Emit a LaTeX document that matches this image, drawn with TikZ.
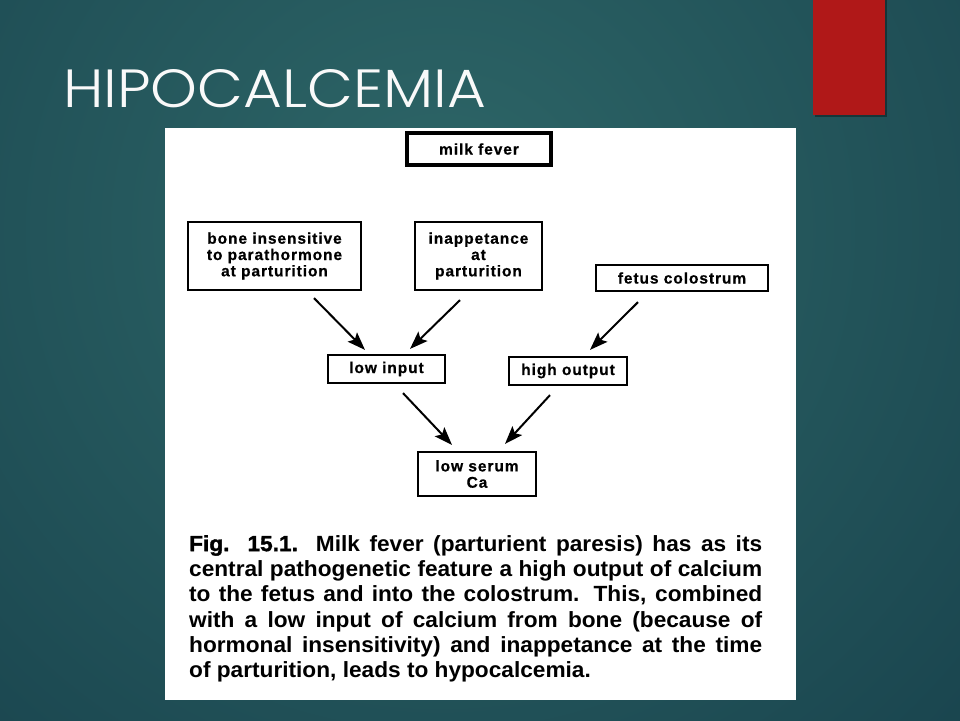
\documentclass[tikz,border=0pt]{standalone}
\usepackage{fontspec}
\setmainfont{Liberation Sans}
\IfFontExistsTF{Poppins Light}{\newfontfamily\titlefont{Poppins Light}}{\newfontfamily\titlefont{Poppins}}
\newfontfamily\capfont{Liberation Sans}[FakeStretch=1.03]
\newfontfamily\capheavy{Liberation Sans}[FakeStretch=1.03, BoldFeatures={FakeBold=1.5}]
\newfontfamily\boxfont{Liberation Sans}[LetterSpace=6, BoldFeatures={FakeBold=0.6}]
\usetikzlibrary{arrows.meta}
\definecolor{bgdark}{HTML}{123845}
\definecolor{bglight}{HTML}{2E6768}
\definecolor{slidered}{HTML}{B01818}
\newcommand{\capline}[1]{\makebox[573pt][s]{#1}\\}
\begin{document}
\begin{tikzpicture}[x=1pt,y=-1pt,
  box/.style={draw=black, line width=2.2pt, fill=white, inner sep=0pt, align=center,
    font=\boxfont\fontsize{15.5}{16.3}\selectfont\bfseries},
  arr/.style={line width=2pt, -{Stealth[length=18pt,width=13pt,inset=3.5pt]}}]
\useasboundingbox (0,0) rectangle (960,720);
% background
\fill[bgdark] (0,0) rectangle (960,720);
\begin{scope}
  \clip (0,0) rectangle (960,720);
  \shade[inner color=bglight, outer color=bgdark] (440,230) circle (1000);
\end{scope}
% red bar
\fill[black,opacity=0.35] (815,0) rectangle (887,117);
\fill[slidered] (813,0) rectangle (885,115);
% title
\node[anchor=south west, inner sep=0pt, text=white!95!gray] (title) at (63,108)
  {\resizebox{423pt}{38pt}{\titlefont HIPOCALCEMIA}};
% white panel
\fill[white] (165,128) rectangle (796,700);
% boxes
\node[box, line width=4.5pt, minimum width=144pt, minimum height=32pt] (milk) at (479,149) {milk fever};
\node[box, minimum width=173pt, minimum height=68pt] (bone) at (274.5,256) {bone insensitive\\to parathormone\\at parturition};
\node[box, minimum width=127pt, minimum height=68pt] (inapp) at (478.5,256) {inappetance\\at\\parturition};
\node[box, minimum width=172pt, minimum height=26pt] (fetus) at (682,278) {fetus colostrum};
\node[box, minimum width=117pt, minimum height=28pt] (lowin) at (386.5,369) {low input};
\node[box, minimum width=118pt, minimum height=28pt] (highout) at (568,371) {high output};
\node[box, minimum width=118pt, minimum height=44pt] (serum) at (477,474) {low serum\\Ca};
% arrows
\draw[arr] ([xshift=39.5pt,yshift=-7pt]bone.south) -- ([xshift=-21.5pt,yshift=4pt]lowin.north);
\draw[arr] ([xshift=-18.5pt,yshift=-9pt]inapp.south) -- ([xshift=23.5pt,yshift=5pt]lowin.north);
\draw[arr] ([xshift=-44pt,yshift=-10pt]fetus.south) -- ([xshift=22pt,yshift=6pt]highout.north);
\draw[arr] ([xshift=16.5pt,yshift=-9pt]lowin.south) -- ([xshift=-25pt,yshift=6pt]serum.north);
\draw[arr] ([xshift=-18pt,yshift=-9pt]highout.south) -- ([xshift=28pt,yshift=7pt]serum.north);
% caption
\node[anchor=north west, inner sep=0pt, align=left,
  font=\capfont\fontsize{22}{25.3}\selectfont\bfseries] (caption) at (189,535) {%
\capline{{\capheavy\bfseries Fig. 15.1.} Milk fever (parturient paresis) has as its}%
\capline{central pathogenetic feature a high output of calcium}%
\capline{to the fetus and into the colostrum. This, combined}%
\capline{with a low input of calcium from bone (because of}%
\capline{hormonal insensitivity) and inappetance at the time}%
\makebox[573pt][l]{of parturition, leads to hypocalcemia.}};
\end{tikzpicture}
\end{document}
